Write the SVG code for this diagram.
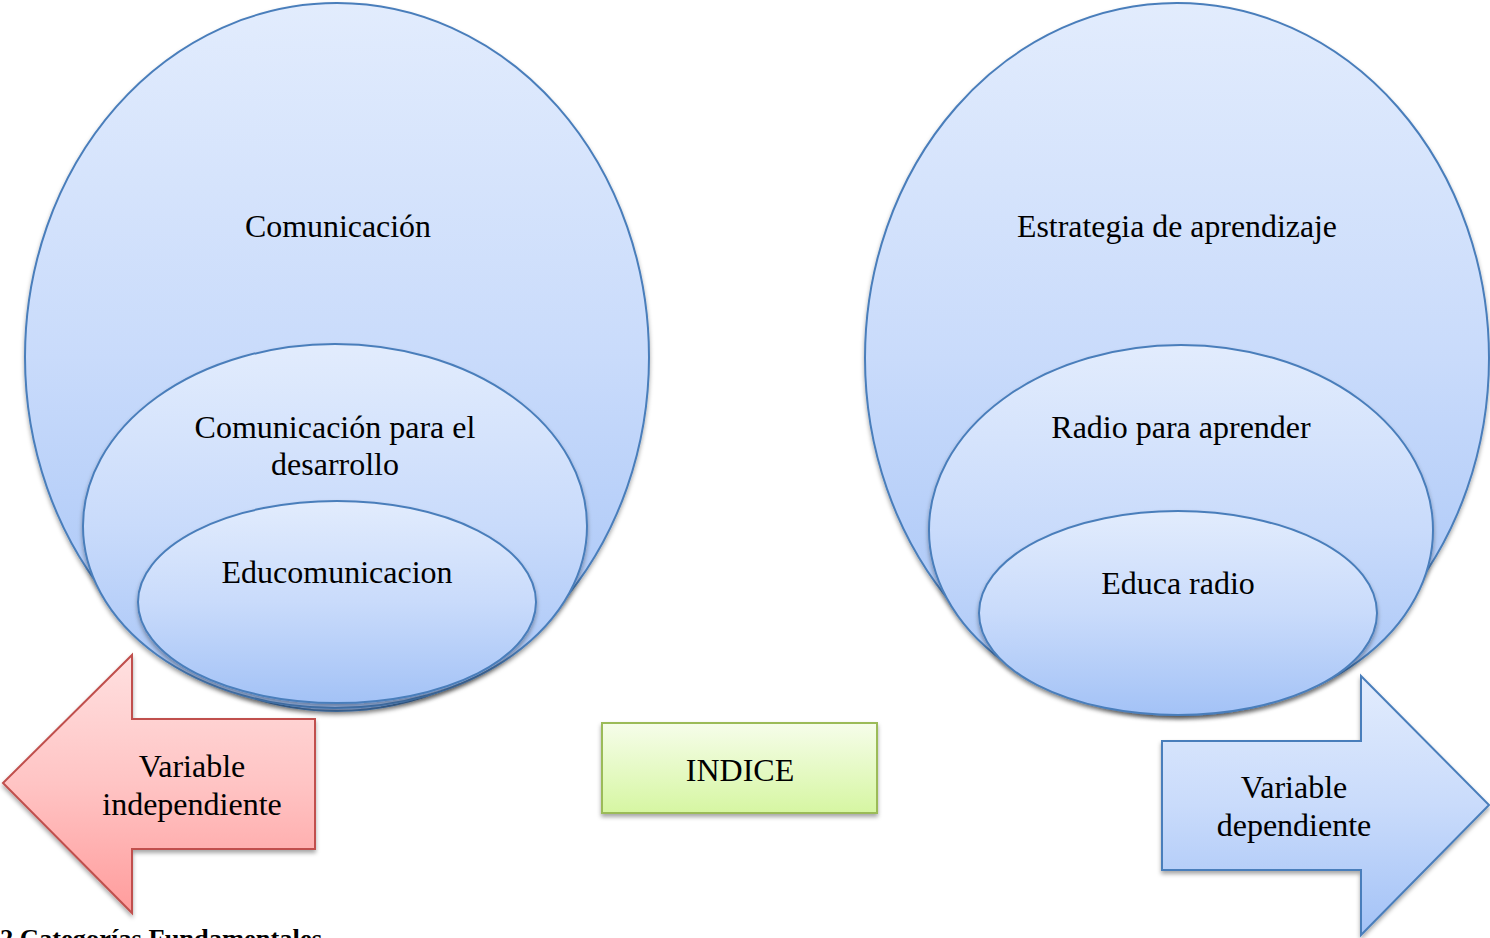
<svg xmlns="http://www.w3.org/2000/svg" width="1490" height="938" viewBox="0 0 1490 938">
<defs>
<linearGradient id="gBlue" x1="0" y1="0" x2="0" y2="1">
<stop offset="0" stop-color="#e2ecfd"/>
<stop offset="0.5" stop-color="#c9dbfb"/>
<stop offset="1" stop-color="#a3c2f6"/>
</linearGradient>
<linearGradient id="gRed" x1="0" y1="0" x2="0" y2="1">
<stop offset="0" stop-color="#ffe0e0"/>
<stop offset="0.5" stop-color="#ffc4c4"/>
<stop offset="1" stop-color="#ff9c9c"/>
</linearGradient>
<linearGradient id="gGreen" x1="0" y1="0" x2="0" y2="1">
<stop offset="0" stop-color="#f6fdea"/>
<stop offset="1" stop-color="#d6f6a2"/>
</linearGradient>
<filter id="sh" x="-10%" y="-10%" width="120%" height="125%">
<feDropShadow dx="0" dy="3" stdDeviation="2" flood-color="#000" flood-opacity="0.35"/>
</filter>
<style>
.blue{fill:url(#gBlue);stroke:#4a7ebb;stroke-width:2;filter:url(#sh)}
.red{fill:url(#gRed);stroke:#c0504d;stroke-width:2;filter:url(#sh)}
.green{fill:url(#gGreen);stroke:#9bbb59;stroke-width:2;filter:url(#sh)}
.t{font-family:"Liberation Serif","Times New Roman",serif;font-size:32px;fill:#000;text-anchor:middle}
.cap{font-family:"Liberation Serif","Times New Roman",serif;font-size:26px;font-weight:bold;fill:#000}
</style>
</defs>
<g id="left-outer">
<ellipse class="blue" cx="337" cy="357" rx="312" ry="354"/>
<text class="t" x="338" y="237" textLength="186" lengthAdjust="spacingAndGlyphs">Comunicación</text>
</g>
<g id="left-middle">
<ellipse class="blue" cx="335" cy="526" rx="252" ry="182"/>
<text class="t" x="335" y="438">Comunicación para el</text>
<text class="t" x="335" y="475">desarrollo</text>
</g>
<g id="left-inner">
<ellipse class="blue" cx="337" cy="602" rx="199" ry="101"/>
<text class="t" x="337" y="583">Educomunicacion</text>
</g>
<g id="right-outer">
<ellipse class="blue" cx="1177" cy="358" rx="312" ry="355"/>
<text class="t" x="1177" y="237" textLength="320" lengthAdjust="spacingAndGlyphs">Estrategia de aprendizaje</text>
</g>
<g id="right-middle">
<ellipse class="blue" cx="1181" cy="530" rx="252" ry="185"/>
<text class="t" x="1181" y="438">Radio para aprender</text>
</g>
<g id="right-inner">
<ellipse class="blue" cx="1178" cy="613" rx="199" ry="102"/>
<text class="t" x="1178" y="594">Educa radio</text>
</g>
<g id="var-independiente">
<polygon class="red" points="3,783 132,655 132,719 315,719 315,849 132,849 132,913"/>
<text class="t" x="192" y="777">Variable</text>
<text class="t" x="192" y="815">independiente</text>
</g>
<g id="indice">
<rect class="green" x="602" y="723" width="275" height="90"/>
<text class="t" x="740" y="781">INDICE</text>
</g>
<g id="var-dependiente">
<polygon class="blue" points="1162,741 1361,741 1361,676 1489,805 1361,935 1361,870 1162,870"/>
<text class="t" x="1294" y="798">Variable</text>
<text class="t" x="1294" y="836">dependiente</text>
</g>
<g id="connectors"/>
<text class="cap" x="0" y="947" textLength="322" lengthAdjust="spacingAndGlyphs">2 Categorías Fundamentales</text>
</svg>
